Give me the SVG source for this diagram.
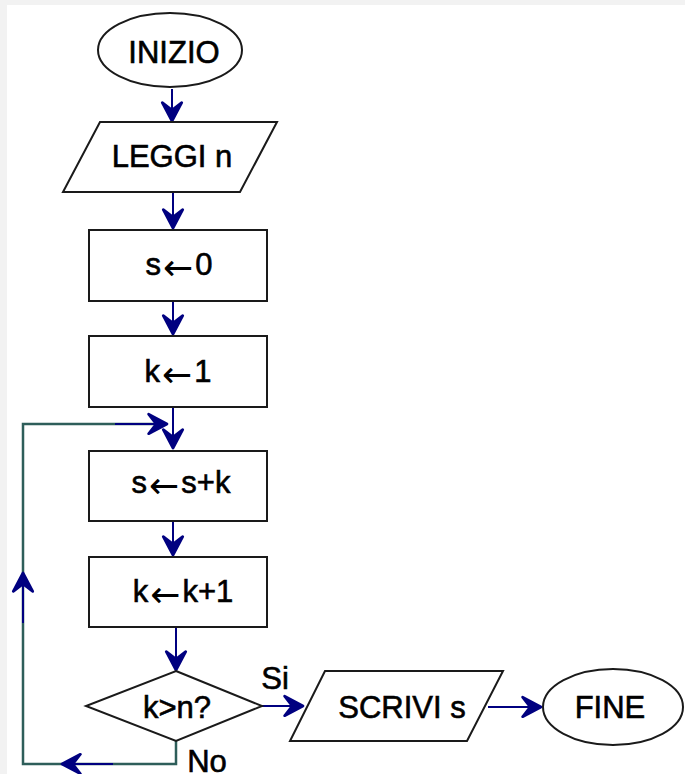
<svg xmlns="http://www.w3.org/2000/svg" width="685" height="774" viewBox="0 0 685 774">
<style>
.shape{fill:#fff;stroke:#1a1a1a;stroke-width:2}
.lbl{font-family:"Liberation Sans",Arial,sans-serif;font-size:31px;fill:#000;stroke:#000;stroke-width:0.6;text-anchor:middle}
.arr{font-family:"DejaVu Sans",sans-serif;font-size:36px;stroke-width:0}
.conn{fill:none;stroke:#000080;stroke-width:2}
.loop{fill:none;stroke:#2e5e5a;stroke-width:2.5}
</style>
<defs>
<marker id="ah" markerUnits="userSpaceOnUse" markerWidth="26" markerHeight="26" viewBox="-3 -3 24 24" refX="17" refY="9" orient="auto">
<path d="M17,9 L0,0 L7,9 L0,18 Z" fill="#000080" stroke="#000080" stroke-width="2.5" stroke-linejoin="round"/>
</marker>
</defs>
<rect x="0" y="0" width="685" height="774" fill="#f2f2f2"/>
<rect x="7" y="5" width="678" height="769" fill="#fff"/>

<g id="connectors">
<polyline class="loop" points="176,741 176,764 23,764 23,424 165,424"/>
<line class="conn" x1="113" y1="764" x2="62" y2="764" marker-end="url(#ah)"/>
<line class="conn" x1="23" y1="623" x2="23" y2="573" marker-end="url(#ah)"/>
<line class="conn" x1="115" y1="424" x2="167" y2="424" marker-end="url(#ah)"/>
<line class="conn" x1="172" y1="89" x2="172" y2="121" marker-end="url(#ah)"/>
<line class="conn" x1="173" y1="192" x2="173" y2="228" marker-end="url(#ah)"/>
<line class="conn" x1="173" y1="301" x2="173" y2="334" marker-end="url(#ah)"/>
<line class="conn" x1="173" y1="407" x2="173" y2="448" marker-end="url(#ah)"/>
<line class="conn" x1="173" y1="521" x2="173" y2="555" marker-end="url(#ah)"/>
<line class="conn" x1="176" y1="627" x2="176" y2="670" marker-end="url(#ah)"/>
<line class="conn" x1="262" y1="706" x2="303" y2="706" marker-end="url(#ah)"/>
<line class="conn" x1="488" y1="707" x2="541" y2="707" marker-end="url(#ah)"/>
</g>

<g id="inizio">
<ellipse class="shape" cx="170" cy="50" rx="72" ry="37"/>
<text class="lbl" x="174" y="63">INIZIO</text>
</g>
<g id="leggi">
<polygon class="shape" points="100,122 277,122 240,192 63,192"/>
<text class="lbl" x="172" y="167">LEGGI n</text>
</g>
<g id="s0">
<rect class="shape" x="89" y="230" width="178" height="71"/>
<text class="lbl" x="179" y="275">s<tspan class="arr" dx="2" dy="5">←</tspan><tspan dx="2" dy="-5">0</tspan></text>
</g>
<g id="k1">
<rect class="shape" x="89" y="336" width="178" height="71"/>
<text class="lbl" x="178" y="382">k<tspan class="arr" dx="2" dy="5">←</tspan><tspan dx="2" dy="-5">1</tspan></text>
</g>
<g id="ssk">
<rect class="shape" x="89" y="451" width="178" height="70"/>
<text class="lbl" x="181" y="493">s<tspan class="arr" dx="2" dy="5">←</tspan><tspan dx="2" dy="-5">s+k</tspan></text>
</g>
<g id="kk1">
<rect class="shape" x="89" y="557" width="178" height="70"/>
<text class="lbl" x="183" y="602">k<tspan class="arr" dx="2" dy="5">←</tspan><tspan dx="2" dy="-5">k+1</tspan></text>
</g>
<g id="cond">
<polygon class="shape" points="176,671 262,706 176,741 86,706"/>
<text class="lbl" x="177" y="718">k&gt;n?</text>
<text class="lbl" x="275" y="689">Si</text>
<text class="lbl" x="207" y="772">No</text>
</g>
<g id="scrivi">
<polygon class="shape" points="325,671 503,671 467,741 290,741"/>
<text class="lbl" x="402" y="718">SCRIVI s</text>
</g>
<g id="fine">
<ellipse class="shape" cx="613" cy="707" rx="70" ry="38"/>
<text class="lbl" x="610" y="718">FINE</text>
</g>
</svg>
